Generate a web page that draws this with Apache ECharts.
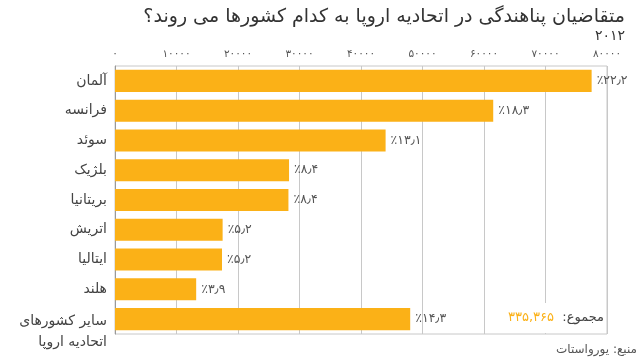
<!DOCTYPE html>
<html>
<head>
<meta charset="utf-8">
<script src="https://cdn.jsdelivr.net/npm/echarts@6/dist/echarts.min.js"></script>
<style>
html,body{margin:0;padding:0;background:#fff;}
#c{width:640px;height:364px;}
</style>
</head>
<body>
<div id="c" dir="rtl"></div>
<script>
const categories = ['آلمان', 'فرانسه', 'سوئد', 'بلژیک', 'بریتانیا', 'اتریش', 'ایتالیا', 'هلند', 'سایر کشورهای\nاتحادیه اروپا'];
const values = [77500, 61500, 44000, 28300, 28200, 17500, 17400, 13200, 48000];
const percentLabels = ['۲۲٫۲', '۱۸٫۳', '۱۳٫۱', '۸٫۴', '۸٫۴', '۵٫۲', '۵٫۲', '۳٫۹', '۱۴٫۳'];
const xTickLabels = ['۰', '۱۰۰۰۰', '۲۰۰۰۰', '۳۰۰۰۰', '۴۰۰۰۰', '۵۰۰۰۰', '۶۰۰۰۰', '۷۰۰۰۰', '۸۰۰۰۰'];
const titleText = 'متقاضیان پناهندگی در اتحادیه اروپا به کدام کشورها می روند؟';
const subtitleText = '۲۰۱۲';
const totalWord = 'مجموع:';
const totalValue = '۳۳۵,۳۶۵';
const sourceText = 'منبع: یورواستات';

const FONT = 'DejaVu Sans';
const BAR = '#FBB117';

const chart = echarts.init(document.getElementById('c'), null, {renderer: 'canvas'});
chart.setOption({
  animation: false,
  backgroundColor: '#fff',
  textStyle: {fontFamily: FONT},
  title: [
    {text: titleText, right: 10, top: 3,
      textStyle: {fontFamily: FONT, fontSize: 19, fontWeight: 'normal', color: '#333'}},
    {text: subtitleText, right: 10, top: 24,
      textStyle: {fontFamily: FONT, fontSize: 14, fontWeight: 'normal', color: '#333'}}
  ],
  grid: {
    left: 115, right: 33, top: 66, bottom: 30,
    show: true, borderColor: '#c8c8c8', borderWidth: 1
  },
  xAxis: {
    type: 'value',
    position: 'top',
    min: 0, max: 80000, interval: 10000,
    axisLine: {show: false},
    axisTick: {show: false},
    splitLine: {lineStyle: {color: '#c8c8c8', width: 1}},
    axisLabel: {
      margin: 6,
      fontFamily: FONT, fontSize: 10.5, color: '#555',
      formatter: v => xTickLabels[Math.round(v / 10000)]
    }
  },
  yAxis: {
    type: 'category',
    inverse: true,
    data: categories,
    axisLine: {show: true, lineStyle: {color: '#999'}},
    axisTick: {show: false},
    axisLabel: {
      interval: 0, hideOverlap: false,
      margin: 8, fontFamily: FONT, fontSize: 14, color: '#444', lineHeight: 21,
      formatter: (v, i) => i === categories.length - 1
        ? '{s| }\n{m|' + v.split('\n').join('}\n{m|') + '}'
        : v,
      rich: {
        s: {fontFamily: FONT, fontSize: 2, lineHeight: 26},
        m: {fontFamily: FONT, fontSize: 14, color: '#444', lineHeight: 21}
      }
    }
  },
  series: [{
    type: 'bar',
    data: values,
    barCategoryGap: '26%',
    itemStyle: {color: BAR},
    label: {
      show: true,
      position: 'right',
      distance: 5,
      fontFamily: FONT, fontSize: 12.5, color: '#555',
      formatter: p => '٪' + percentLabels[p.dataIndex]
    }
  }],
  graphic: [
    {type: 'rect', left: 489, top: 303, shape: {width: 117, height: 30}, style: {fill: '#fff'}, z: 10},
    {type: 'text', right: 36, top: 311, z: 11,
      style: {text: '{n|' + totalValue + '}  {t|' + totalWord + '}', font: '13px "DejaVu Sans"',
        rich: {n: {fontFamily: FONT, fontSize: 13, fill: BAR}, t: {fontFamily: FONT, fontSize: 13, fill: '#444'}}}},
    {type: 'text', right: 3, top: 344, z: 11,
      style: {text: sourceText, font: '12px "DejaVu Sans"', fill: '#555'}}
  ]
});
</script>
</body>
</html>
